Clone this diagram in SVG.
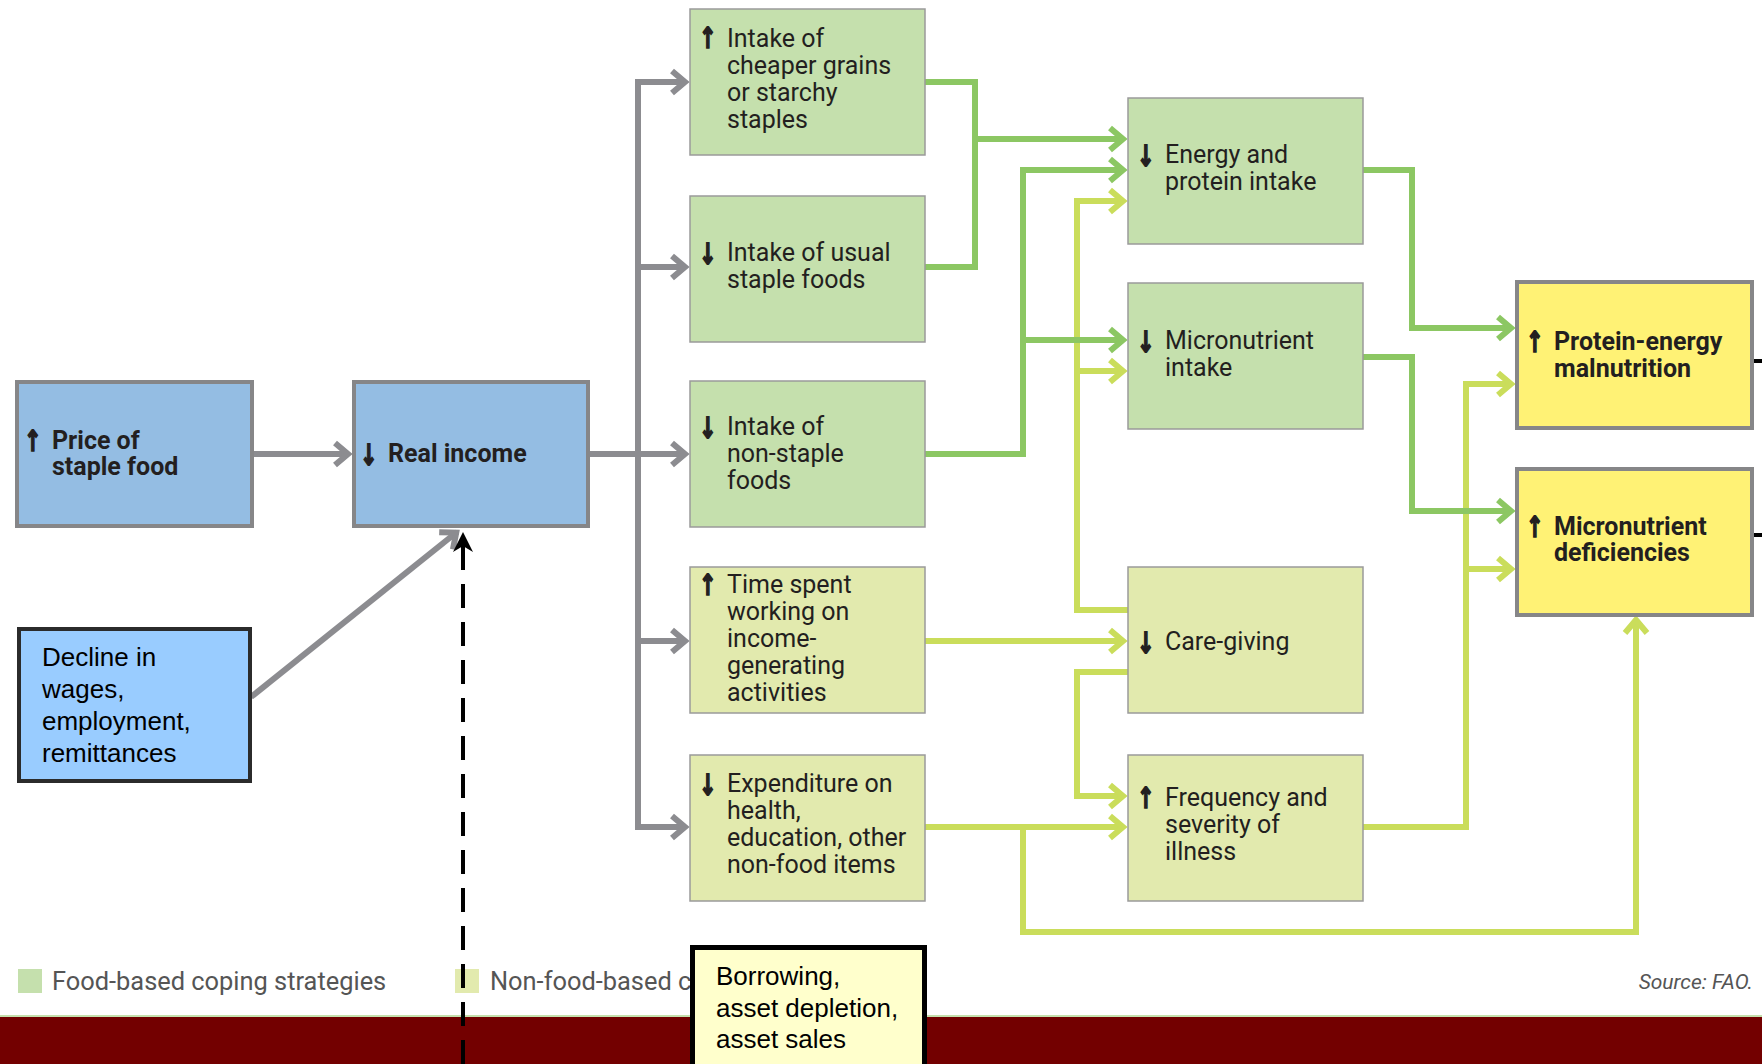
<svg xmlns="http://www.w3.org/2000/svg" width="1762" height="1064" viewBox="0 0 1762 1064">
<style>
.food{fill:#c5e0ad;stroke:#9a9a9a;stroke-width:1.5}
.nonfood{fill:#e2eaae;stroke:#9a9a9a;stroke-width:1.5}
.blue{fill:#94bde3;stroke:#868688;stroke-width:4}
.yellow{fill:#fff275;stroke:#868688;stroke-width:4}
.call{fill:#99ccff;stroke:#2b2b2b;stroke-width:4}
.t{font-family:Roboto,"DejaVu Sans",sans-serif;font-size:25px;fill:#231f20}
.tb{font-weight:bold}
.ar{font-family:"DejaVu Sans",sans-serif;font-weight:bold;font-size:29px;fill:#231f20;stroke:#231f20;stroke-width:1.6}
.callt{font-family:"Liberation Sans",Arial,sans-serif;font-size:26px;fill:#000}
.leg{font-family:Roboto,"DejaVu Sans",sans-serif;font-size:25.4px;fill:#555}
.src{font-family:Roboto,"DejaVu Sans",sans-serif;font-size:21px;font-style:italic;fill:#555}
.g{fill:none;stroke:#8c8c90;stroke-width:6}
.dg{fill:none;stroke:#8cc763;stroke-width:6}
.lg{fill:none;stroke:#cadd5b;stroke-width:6}
</style>
<defs>
<marker id="mg" markerUnits="userSpaceOnUse" viewBox="-20 -16 30 32" markerWidth="30" markerHeight="32" refX="0" refY="0" orient="auto" overflow="visible">
<path d="M-14,-11 L-1,0 L-14,11" fill="none" stroke="#8c8c90" stroke-width="6"/>
</marker>
<marker id="mdg" markerUnits="userSpaceOnUse" viewBox="-20 -16 30 32" markerWidth="30" markerHeight="32" refX="0" refY="0" orient="auto" overflow="visible">
<path d="M-14,-11 L-1,0 L-14,11" fill="none" stroke="#8cc763" stroke-width="6"/>
</marker>
<marker id="mlg" markerUnits="userSpaceOnUse" viewBox="-20 -16 30 32" markerWidth="30" markerHeight="32" refX="0" refY="0" orient="auto" overflow="visible">
<path d="M-14,-11 L-1,0 L-14,11" fill="none" stroke="#cadd5b" stroke-width="6"/>
</marker>
<marker id="mk" markerUnits="userSpaceOnUse" viewBox="-20 -12 26 24" markerWidth="26" markerHeight="24" refX="0" refY="0" orient="auto" overflow="visible">
<path d="M6,0 L-14,-10 L-8,0 L-14,10 Z" fill="#000"/>
</marker>
</defs>
<rect width="1762" height="1064" fill="#fff"/>

<g id="legend">
<rect x="18" y="969" width="24" height="24" fill="#c5e0ad"/>
<text class="leg" x="52" y="990">Food-based coping strategies</text>
<rect x="455" y="969" width="24" height="24" fill="#e2eaae"/>
<text class="leg" x="490" y="990">Non-food-based c</text>
<text class="src" x="1753" y="989" text-anchor="end">Source: FAO.</text>
</g>

<g id="band">
<rect x="0" y="1016" width="1762" height="48" fill="#730000"/>
<rect x="0" y="1015" width="1762" height="2" fill="#c5e0ad"/>
</g>

<g id="connectors">
<path class="g" d="M253,454 H349" marker-end="url(#mg)"/>
<path class="g" d="M251,697 L457,532" marker-end="url(#mg)"/>
<path class="g" d="M589,454 H686" marker-end="url(#mg)"/>
<path class="g" d="M686,82 H638 V827 H686"/>
<path class="g" d="M638,82 H686" marker-end="url(#mg)"/>
<path class="g" d="M638,267 H686" marker-end="url(#mg)"/>
<path class="g" d="M638,641 H686" marker-end="url(#mg)"/>
<path class="g" d="M638,827 H686" marker-end="url(#mg)"/>

<path class="lg" d="M1128,610 H1077 V201 H1124" marker-end="url(#mlg)"/>
<path class="lg" d="M1077,371 H1124" marker-end="url(#mlg)"/>
<path class="lg" d="M925,641 H1124" marker-end="url(#mlg)"/>
<path class="lg" d="M1128,672 H1077 V796 H1124" marker-end="url(#mlg)"/>
<path class="lg" d="M925,827 H1124" marker-end="url(#mlg)"/>
<path class="lg" d="M1023,827 V932 H1636 V619" marker-end="url(#mlg)"/>
<path class="lg" d="M1363,827 H1466 V384 H1512" marker-end="url(#mlg)"/>
<path class="lg" d="M1466,569 H1512" marker-end="url(#mlg)"/>

<path class="dg" d="M925,82 H975 V267 H925"/>
<path class="dg" d="M975,139 H1124" marker-end="url(#mdg)"/>
<path class="dg" d="M925,454 H1023 V170 H1124" marker-end="url(#mdg)"/>
<path class="dg" d="M1023,340 H1124" marker-end="url(#mdg)"/>
<path class="dg" d="M1363,170 H1412 V328 H1512" marker-end="url(#mdg)"/>
<path class="dg" d="M1363,357 H1412 V511 H1512" marker-end="url(#mdg)"/>

<path d="M1752,361 H1762 M1752,535 H1762" stroke="#000" stroke-width="4" fill="none"/>
<path d="M463,1064 V538" stroke="#000" stroke-width="4" fill="none" stroke-dasharray="24 14" marker-end="url(#mk)"/>
</g>

<g id="n-price">
<rect class="blue" x="17" y="382" width="235" height="144"/>
<text class="ar" transform="translate(24,451) scale(0.72,1)">↑</text>
<text class="t tb"><tspan x="52" y="449">Price of</tspan><tspan x="52" y="475">staple food</tspan></text>
</g>
<g id="n-real">
<rect class="blue" x="354" y="382" width="234" height="144"/>
<text class="ar" transform="translate(360,465) scale(0.72,1)">↓</text>
<text class="t tb"><tspan x="388" y="462">Real income</tspan></text>
</g>
<g id="n-decline">
<rect class="call" x="19" y="629" width="231" height="152"/>
<text class="callt"><tspan x="42" y="666">Decline in</tspan><tspan x="42" y="698">wages,</tspan><tspan x="42" y="730">employment,</tspan><tspan x="42" y="762">remittances</tspan></text>
</g>

<g id="n-cheaper">
<rect class="food" x="690" y="9" width="235" height="146"/>
<text class="ar" transform="translate(699,48) scale(0.72,1)">↑</text>
<text class="t"><tspan x="727" y="47">Intake of</tspan><tspan x="727" y="74">cheaper grains</tspan><tspan x="727" y="101">or starchy</tspan><tspan x="727" y="128">staples</tspan></text>
</g>
<g id="n-usual">
<rect class="food" x="690" y="196" width="235" height="146"/>
<text class="ar" transform="translate(699,264) scale(0.72,1)">↓</text>
<text class="t"><tspan x="727" y="261">Intake of usual</tspan><tspan x="727" y="288">staple foods</tspan></text>
</g>
<g id="n-nonstaple">
<rect class="food" x="690" y="381" width="235" height="146"/>
<text class="ar" transform="translate(699,438) scale(0.72,1)">↓</text>
<text class="t"><tspan x="727" y="435">Intake of</tspan><tspan x="727" y="462">non-staple</tspan><tspan x="727" y="489">foods</tspan></text>
</g>
<g id="n-time">
<rect class="nonfood" x="690" y="567" width="235" height="146"/>
<text class="ar" transform="translate(699,595) scale(0.72,1)">↑</text>
<text class="t"><tspan x="727" y="593">Time spent</tspan><tspan x="727" y="620">working on</tspan><tspan x="727" y="647">income-</tspan><tspan x="727" y="674">generating</tspan><tspan x="727" y="701">activities</tspan></text>
</g>
<g id="n-expend">
<rect class="nonfood" x="690" y="755" width="235" height="146"/>
<text class="ar" transform="translate(699,795) scale(0.72,1)">↓</text>
<text class="t"><tspan x="727" y="792">Expenditure on</tspan><tspan x="727" y="819">health,</tspan><tspan x="727" y="846">education, other</tspan><tspan x="727" y="873">non-food items</tspan></text>
</g>

<g id="n-energy">
<rect class="food" x="1128" y="98" width="235" height="146"/>
<text class="ar" transform="translate(1137,166) scale(0.72,1)">↓</text>
<text class="t"><tspan x="1165" y="163">Energy and</tspan><tspan x="1165" y="190">protein intake</tspan></text>
</g>
<g id="n-micro">
<rect class="food" x="1128" y="283" width="235" height="146"/>
<text class="ar" transform="translate(1137,352) scale(0.72,1)">↓</text>
<text class="t"><tspan x="1165" y="349">Micronutrient</tspan><tspan x="1165" y="376">intake</tspan></text>
</g>
<g id="n-care">
<rect class="nonfood" x="1128" y="567" width="235" height="146"/>
<text class="ar" transform="translate(1137,653) scale(0.72,1)">↓</text>
<text class="t"><tspan x="1165" y="650">Care-giving</tspan></text>
</g>
<g id="n-freq">
<rect class="nonfood" x="1128" y="755" width="235" height="146"/>
<text class="ar" transform="translate(1137,808) scale(0.72,1)">↑</text>
<text class="t"><tspan x="1165" y="806">Frequency and</tspan><tspan x="1165" y="833">severity of</tspan><tspan x="1165" y="860">illness</tspan></text>
</g>

<g id="n-pem">
<rect class="yellow" x="1517" y="282" width="235" height="146"/>
<text class="ar" transform="translate(1526,352) scale(0.72,1)">↑</text>
<text class="t tb"><tspan x="1554" y="350">Protein-energy</tspan><tspan x="1554" y="377">malnutrition</tspan></text>
</g>
<g id="n-mnd">
<rect class="yellow" x="1517" y="469" width="235" height="146"/>
<text class="ar" transform="translate(1526,537) scale(0.72,1)">↑</text>
<text class="t tb"><tspan x="1554" y="535">Micronutrient</tspan><tspan x="1554" y="561">deficiencies</tspan></text>
</g>

<g id="n-borrow">
<rect x="692.5" y="947.5" width="232" height="130" fill="#ffffcc" stroke="#000" stroke-width="5"/>
<text class="callt"><tspan x="716" y="985">Borrowing,</tspan><tspan x="716" y="1017">asset depletion,</tspan><tspan x="716" y="1048">asset sales</tspan></text>
</g>
</svg>
